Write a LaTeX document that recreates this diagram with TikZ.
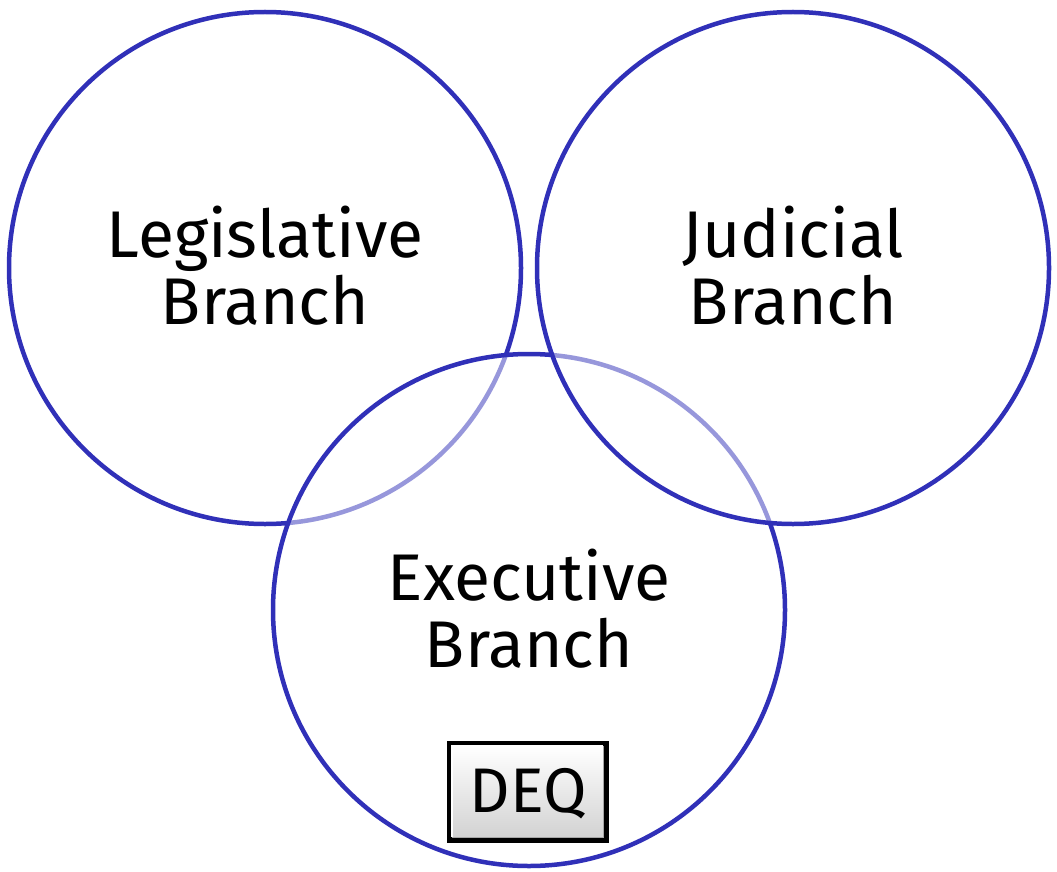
\documentclass[tikz,border=0pt]{standalone}
\usepackage{fontspec}
\setmainfont{Fira Sans}
\definecolor{ringblue}{HTML}{3030B8}
\tikzset{
  branch/.style={draw=ringblue, line width=4.5pt, fill=white, fill opacity=0.5, draw opacity=1},
  label/.style={align=center, font=\fontsize{66}{67}\selectfont, text=black, text opacity=1, inner sep=0pt},
}
\begin{document}
\begin{tikzpicture}[x=1pt,y=-1pt]
\useasboundingbox (0,0) rectangle (1057,872);
\coordinate (cl) at (265,268);
\coordinate (cj) at (793,268);
\coordinate (ce) at (529,610);
\path[branch] (cl) circle[radius=256];
\path[branch] (ce) circle[radius=256];
\path[branch] (cj) circle[radius=256];
\node[label] (leg) at (265,266) {Legislative\\Branch};
\node[label] (jud) at (793,266) {Judicial\\Branch};
\node[label] (exe) at (529,609) {Executive\\Branch};
% DEQ button
\node[draw=black, line width=4.5pt, fill=gray!70, minimum width=157pt, minimum height=97pt, inner sep=0pt] (deqframe) at (528,792) {};
\shade[top color=white, bottom color=gray!35] ([shift={(5pt,-5pt)}]deqframe.north west) rectangle ([shift={(-6pt,6pt)}]deqframe.south east);
\draw[white, line width=2pt] ([shift={(5pt,6pt)}]deqframe.south west) -- ([shift={(5pt,-5pt)}]deqframe.north west) -- ([shift={(-6pt,-5pt)}]deqframe.north east);
\node[font=\fontsize{63}{66}\selectfont, inner sep=0pt] (deq) at (528,794) {DEQ};
\end{tikzpicture}
\end{document}
